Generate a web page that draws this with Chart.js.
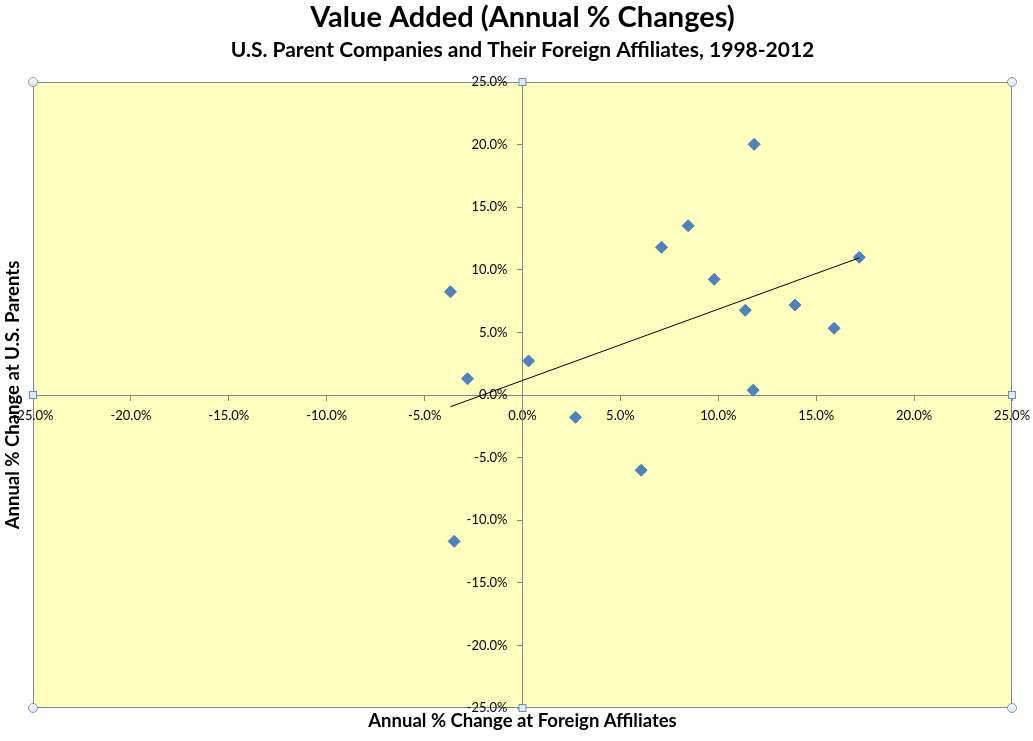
<!DOCTYPE html>
<html>
<head>
<meta charset="utf-8">
<script src="https://cdn.jsdelivr.net/npm/chart.js@4"></script>
<style>
  body { margin: 0; background: #fff; }
  #wrap { width: 1033px; height: 741px; }
</style>
</head>
<body>
<div id="wrap"><canvas id="graficoValor"></canvas></div>
<script>
// annual % change, foreign affiliates (x) vs U.S. parents (y)
const afiliadas = [-3.68, -2.81, -3.49, 0.31, 2.71, 6.06, 7.10, 8.46, 9.79, 11.38, 11.83, 11.78, 13.92, 15.91, 17.20];
const matrices = [8.25, 1.30, -11.69, 2.72, -1.78, -6.01, 11.80, 13.52, 9.24, 6.77, 20.02, 0.38, 7.19, 5.33, 11.00];
const ticksPct = [-25, -20, -15, -10, -5, 0, 5, 10, 15, 20, 25];

const puntos = afiliadas.map((x, i) => ({ x: x, y: matrices[i] }));

// linear trendline (least squares), drawn from min x to max x like Excel
const n = afiliadas.length;
const mx = afiliadas.reduce((a, b) => a + b, 0) / n;
const my = matrices.reduce((a, b) => a + b, 0) / n;
let sxy = 0, sxx = 0;
for (let i = 0; i < n; i++) {
    sxy += (afiliadas[i] - mx) * (matrices[i] - my);
    sxx += (afiliadas[i] - mx) * (afiliadas[i] - mx);
}
const pendiente = sxy / sxx;
const corte = my - pendiente * mx;
const xMin = Math.min(...afiliadas);
const xMax = Math.max(...afiliadas);
const tendencia = [
    { x: xMin, y: corte + pendiente * xMin },
    { x: xMax, y: corte + pendiente * xMax }
];

const gris = "#868686";
const pct = v => v.toFixed(1) + "%";

const fondo = {
    id: "fondo",
    beforeDraw(chart) {
        const { ctx, chartArea: a } = chart;
        ctx.save();
        ctx.fillStyle = "#FFFFC0";
        ctx.fillRect(a.left, a.top, a.right - a.left, a.bottom - a.top);
        ctx.strokeStyle = gris;
        ctx.lineWidth = 1;
        ctx.strokeRect(a.left + 0.5, a.top + 0.5, a.right - a.left - 1, a.bottom - a.top - 1);
        ctx.restore();
    }
};

const extras = {
    id: "extras",
    afterDraw(chart) {
        const { ctx, chartArea: a, scales } = chart;

        // y tick labels, left of the centre axis
        ctx.save();
        ctx.fillStyle = "#000";
        ctx.font = "13px Lato";
        ctx.textAlign = "right";
        ctx.textBaseline = "middle";
        const ejeX = scales.x.getPixelForValue(0);
        ticksPct.forEach(v => {
            ctx.fillText(pct(v), ejeX - 15, scales.y.getPixelForValue(v));
        });
        ctx.restore();

        // axis titles
        ctx.save();
        ctx.fillStyle = "#000";
        ctx.font = "bold 18.5px Lato";
        ctx.textAlign = "center";
        ctx.textBaseline = "middle";
        ctx.fillText("Annual % Change at Foreign Affiliates", (a.left + a.right) / 2, 721);
        ctx.translate(13, (a.top + a.bottom) / 2);
        ctx.rotate(-Math.PI / 2);
        ctx.fillText("Annual % Change at U.S. Parents", 0, 0);
        ctx.restore();

        // selection handles
        ctx.save();
        const cx = (a.left + a.right) / 2;
        const cy = (a.top + a.bottom) / 2;
        [[a.left, a.top], [a.right, a.top], [a.left, a.bottom], [a.right, a.bottom]].forEach(p => {
            const g = ctx.createLinearGradient(0, p[1] - 5, 0, p[1] + 5);
            g.addColorStop(0, "#ffffff");
            g.addColorStop(1, "#cfe3f5");
            ctx.beginPath();
            ctx.arc(p[0], p[1], 4.5, 0, Math.PI * 2);
            ctx.fillStyle = g;
            ctx.fill();
            ctx.strokeStyle = "#8a9aaa";
            ctx.lineWidth = 1;
            ctx.stroke();
        });
        [[cx, a.top], [a.right, cy], [cx, a.bottom], [a.left, cy]].forEach(p => {
            ctx.fillStyle = "#dcebf8";
            ctx.fillRect(p[0] - 3.5, p[1] - 3.5, 7, 7);
            ctx.strokeStyle = "#6f8fb0";
            ctx.lineWidth = 1;
            ctx.strokeRect(p[0] - 3.5, p[1] - 3.5, 7, 7);
        });
        ctx.restore();
    }
};

new Chart(document.getElementById("graficoValor"), {
    type: "scatter",
    data: {
        datasets: [
            {
                label: "Linear trend",
                data: tendencia,
                showLine: true,
                borderColor: "#000",
                borderWidth: 1,
                pointRadius: 0
            },
            {
                label: "Value added",
                data: puntos,
                pointStyle: "rectRot",
                pointRadius: 6,
                pointHoverRadius: 6,
                backgroundColor: "#4F81BD",
                borderColor: "#4F81BD",
                borderWidth: 1
            }
        ]
    },
    options: {
        responsive: true,
        maintainAspectRatio: false,
        animation: false,
        layout: { padding: { left: 33, right: 21, top: 0, bottom: 33 } },
        plugins: {
            legend: { display: false },
            tooltip: { enabled: false },
            title: {
                display: true,
                text: "Value Added (Annual % Changes)",
                color: "#000",
                font: { family: "Lato", size: 29, weight: "bold" },
                padding: { top: 0, bottom: 1 }
            },
            subtitle: {
                display: true,
                text: "U.S. Parent Companies and Their Foreign Affiliates, 1998-2012",
                color: "#000",
                font: { family: "Lato", size: 21, weight: "bold" },
                padding: { top: 2, bottom: 19 }
            }
        },
        scales: {
            x: {
                type: "linear",
                position: { y: 0 },
                min: -25,
                max: 25,
                afterBuildTicks: s => { s.ticks = ticksPct.map(v => ({ value: v })); },
                afterFit: s => { s.paddingLeft = 0; s.paddingRight = 0; },
                ticks: {
                    callback: pct,
                    color: "#000",
                    font: { family: "Lato", size: 13 },
                    padding: 8,
                    autoSkip: false,
                    maxRotation: 0
                },
                grid: { drawOnChartArea: false, drawTicks: true, tickLength: 5, color: gris },
                border: { display: true, color: gris, width: 1 }
            },
            y: {
                type: "linear",
                position: { x: 0 },
                min: -25,
                max: 25,
                afterBuildTicks: s => { s.ticks = ticksPct.map(v => ({ value: v })); },
                afterFit: s => { s.paddingTop = 0; s.paddingBottom = 0; },
                ticks: { display: false },
                grid: { drawOnChartArea: false, drawTicks: true, tickLength: 5, color: gris },
                border: { display: true, color: gris, width: 1 }
            }
        }
    },
    plugins: [fondo, extras]
});
</script>
</body>
</html>
